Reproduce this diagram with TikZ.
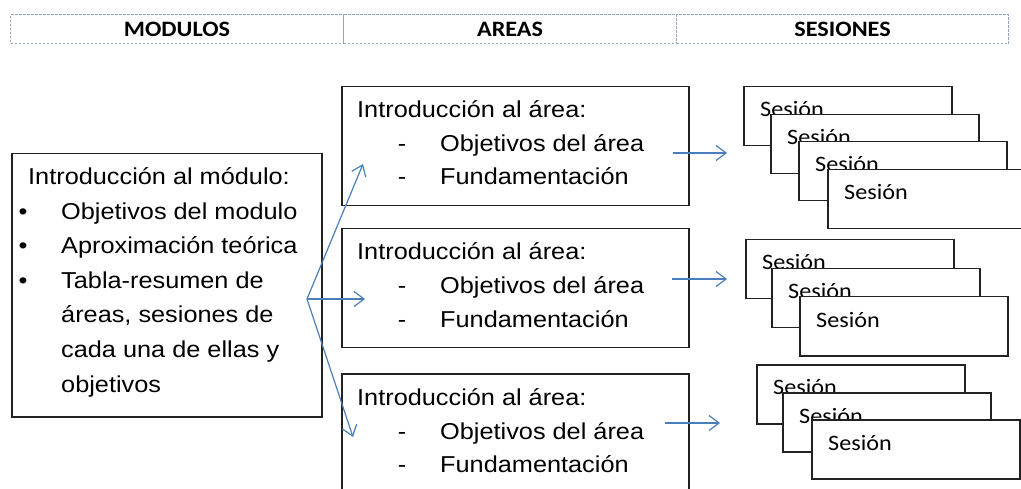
\documentclass[tikz,border=0pt]{standalone}
\usepackage{fontspec}
\setmainfont{Liberation Sans}[FakeStretch=1.1]
\newfontfamily\calfont{Carlito}[FakeStretch=1.1]
\usetikzlibrary{arrows.meta}
\definecolor{arrowblue}{HTML}{4A7EBB}
\definecolor{headgray}{HTML}{93A7C4}
\definecolor{boxgray}{HTML}{222222}
\tikzset{
  box/.style={draw=boxgray, line width=1.5pt, fill=white, inner sep=0pt, anchor=north west},
  sbox/.style={box, minimum width=208pt, minimum height=59pt},
  abox/.style={box, minimum width=347pt, minimum height=119pt},
  lbox/.style={box, minimum width=310pt, minimum height=263pt},
  hcell/.style={draw=headgray, line width=1.1pt, dash pattern=on 2.5pt off 1.5pt, inner sep=0pt, minimum height=29pt, anchor=north west, font=\calfont\bfseries\fontsize{22}{22}\selectfont},
  txt/.style={anchor=base west, inner sep=0pt, font=\fontsize{23}{23}\selectfont},
  dsh/.style={anchor=base, inner sep=0pt, font=\fontsize{23}{23}\selectfont},
  stxt/.style={anchor=base west, inner sep=0pt, font=\calfont\fontsize{22}{22}\selectfont},
  conn/.style={draw=arrowblue, line width=1.2pt, -{Straight Barb[length=10pt,width=15pt,line width=1.2pt]}},
}
\begin{document}
\begin{tikzpicture}[x=1pt,y=-1pt]
\useasboundingbox (0,0) rectangle (1021,489);
\clip (0,0) rectangle (1021,489);
% header
\node[hcell, minimum width=333pt] (hmod) at (10,14) {MODULOS};
\node[hcell, minimum width=333pt] (hare) at (343,14) {AREAS};
\node[hcell, minimum width=332pt] (hses) at (676,14) {SESIONES};
% left box
\node[lbox] (mod) at (11,153) {};
\node[txt] (m0) at (28,185) {Introducción al módulo:};
\node[dsh] (b1) at (23,220) {\textbullet};
\node[dsh] (b2) at (23,254) {\textbullet};
\node[dsh] (b3) at (23,289) {\textbullet};
\node[txt] (m1) at (61,220) {Objetivos del modulo};
\node[txt] (m2) at (61,254) {Aproximación teórica};
\node[txt] (m3) at (61,289) {Tabla-resumen de};
\node[txt] (m4) at (61,323) {áreas, sesiones de};
\node[txt] (m5) at (61,358) {cada una de ellas y};
\node[txt] (m6) at (61,392) {objetivos};
% area boxes
\foreach \k/\o in {1/0,2/142,3/287}{
  \node[abox] (area\k) at (341,86+\o) {};
  \node[txt] (at\k) at (357,118+\o) {Introducción al área:};
  \node[dsh] (ad\k a) at (402,152+\o) {-};
  \node[dsh] (ad\k b) at (402,185+\o) {-};
  \node[txt] (ao\k) at (440,152+\o) {Objetivos del área};
  \node[txt] (af\k) at (440,185+\o) {Fundamentación};
}
% fan arrows
\coordinate (fan) at (307,299);
\coordinate (a1in) at (363,164);
\coordinate (a2in) at (365,299);
\coordinate (a3in) at (353,437);
\draw[conn] (fan) -- (a1in);
\draw[conn] (fan) -- (a2in);
\draw[conn] (fan) -- (a3in);
% session arrows
\coordinate (a1out) at (673,153); \coordinate (s1in) at (727,153);
\coordinate (a2out) at (672,279); \coordinate (s2in) at (727,279);
\coordinate (a3out) at (665,423); \coordinate (s3in) at (720,423);
\draw[conn] (a1out) -- (s1in);
\draw[conn] (a2out) -- (s2in);
\draw[conn] (a3out) -- (s3in);
% session stacks
\foreach \n/\x/\y in {1a/743/86, 1b/770/114, 1c/798/141, 1d/827/169,
                      2a/745/239, 2b/771/268, 2c/799/296,
                      3a/756/364, 3b/782/392, 3c/811/419}{
  \node[sbox] (s\n) at (\x,\y) {};
  \node[stxt] (st\n) at (\x+17,\y+31) {Sesión};
}
\end{tikzpicture}
\end{document}
